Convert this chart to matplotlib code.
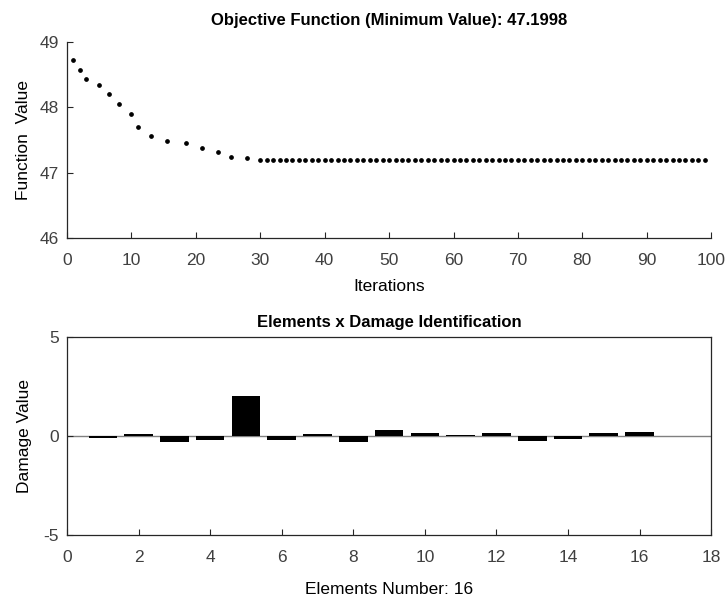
import numpy as np
import matplotlib.pyplot as plt

plt.rcParams['font.family'] = ['Liberation Sans', 'DejaVu Sans']
plt.rcParams['axes.unicode_minus'] = False

# Objective function per iteration
early_iters = [1, 2, 3, 5, 6.5, 8, 10, 11, 13, 15.5, 18.5, 21, 23.5, 25.5, 28]
early_vals = [48.73, 48.57, 48.43, 48.34, 48.20, 48.05, 47.90, 47.70, 47.56,
              47.49, 47.45, 47.38, 47.31, 47.24, 47.22]
min_value = 47.1998
late_iters = list(range(30, 100))
late_vals = [min_value] * len(late_iters)

# Damage per element
elements = list(range(1, 17))
damage = [-0.10, 0.10, -0.28, -0.20, 2.05, -0.20, 0.10, -0.28,
          0.33, 0.17, 0.08, 0.17, -0.23, -0.13, 0.15, 0.23]

fig = plt.figure(figsize=(7.27, 5.96), dpi=100)
tick_col = '#262626'

# --- top: objective function ---
ax1 = fig.add_axes([0.0922, 0.6007, 0.886, 0.329])
ax1.plot(early_iters + late_iters, early_vals + late_vals, linestyle='none',
         marker='o', markersize=2.4, color='black')
ax1.set_xlim(0, 100)
ax1.set_ylim(46, 49)
ax1.set_xticks(range(0, 101, 10))
ax1.set_yticks([46, 47, 48, 49])
ax1.spines['top'].set_visible(False)
ax1.spines['right'].set_visible(False)
ax1.set_title('Objective Function (Minimum Value): ' + str(min_value),
              fontsize=12, fontweight='bold', pad=12)
ax1.set_xlabel('Iterations', fontsize=12.5, labelpad=8)
ax1.set_ylabel('Function  Value', fontsize=12.5, labelpad=6)

# --- bottom: damage per element ---
ax2 = fig.add_axes([0.0922, 0.1023, 0.886, 0.332])
ax2.bar(elements, damage, width=0.8, color='black')
ax2.axhline(0, color='#808080', linewidth=1, zorder=0)
ax2.set_xlim(0, 18)
ax2.set_ylim(-5, 5)
ax2.set_xticks(range(0, 19, 2))
ax2.set_yticks([-5, 0, 5])
ax2.set_title('Elements x Damage Identification', fontsize=12,
              fontweight='bold', pad=7)
ax2.set_xlabel('Elements Number: 16', fontsize=12.5, labelpad=12)
ax2.set_ylabel('Damage Value', fontsize=12.5, labelpad=8)

for ax in (ax1, ax2):
    ax.tick_params(direction='in', length=4, labelsize=12.5, colors=tick_col,
                   labelcolor='#404040')
    ax.tick_params(axis='x', pad=11)
    ax.tick_params(axis='y', pad=6)
    for s in ax.spines.values():
        s.set_color('#262626')
        s.set_linewidth(0.9)

fig.savefig('out.png', dpi=100)
